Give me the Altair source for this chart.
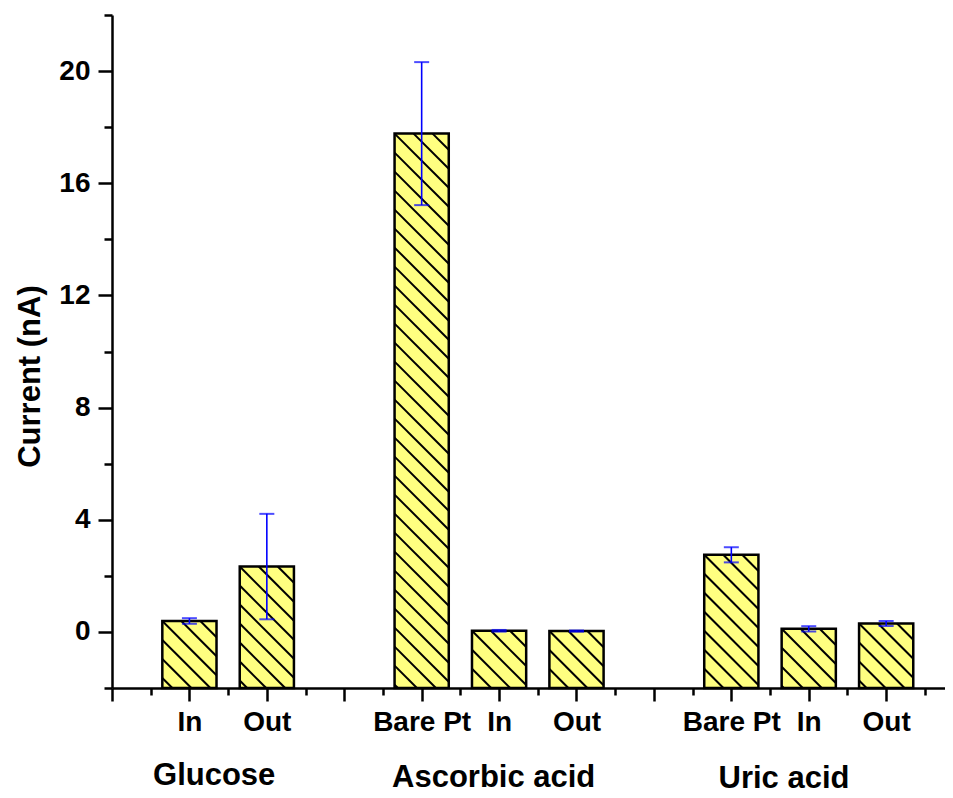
import altair as alt
import pandas as pd
import numpy as np

# ---------------- data ----------------
positions = [1, 2, 4, 5, 6, 8, 9, 10]
tick_labels = ["In", "Out", "Bare Pt", "In", "Out", "Bare Pt", "In", "Out"]
currents = [0.39, 2.33, 17.77, 0.04, 0.03, 2.75, 0.11, 0.30]
errors = [0.10, 1.88, 2.55, 0.03, 0.02, 0.27, 0.095, 0.09]
groups = ["Glucose", "Ascorbic acid", "Uric acid"]
group_centers = [1.32, 4.93, 8.68]

# ---------------- layout / style ----------------
X_MAX = 10.76
Y_MIN, Y_MAX = -2, 22
W, H = 833, 673
BAR_HALF = 0.35
HATCH = 19.0  # px spacing of hatch lines
FONT = "Liberation Sans"
FILL = "#FFFF80"
group_baselines = [770, 772, 773]  # px from top of plot area

px_x = W / X_MAX
px_y = H / (Y_MAX - Y_MIN)

bars = pd.DataFrame({"pos": positions, "val": currents, "err": errors, "label": tick_labels})
bars["x0"] = bars["pos"] - BAR_HALF
bars["x1"] = bars["pos"] + BAR_HALF
bars["base"] = float(Y_MIN)  # bars rise from the bottom of the axis
bars["lo"] = bars["val"] - bars["err"]
bars["hi"] = bars["val"] + bars["err"]

caps = pd.concat([
    bars[["pos", "lo"]].rename(columns={"lo": "y"}),
    bars[["pos", "hi"]].rename(columns={"hi": "y"}),
])

# hatch segments ("\" direction), anchored at each bar's top-left corner
rows = []
for p, v in zip(positions, currents):
    P0, P1 = (p - BAR_HALF) * px_x, (p + BAR_HALF) * px_x
    Q0, Q1 = Y_MIN * px_y, v * px_y
    k0 = P0 + Q1
    n_min = int(np.floor((P0 + Q0 - k0) / HATCH))
    n_max = int(np.ceil((P1 + Q1 - k0) / HATCH))
    for n in range(n_min, n_max + 1):
        k = k0 + n * HATCH
        Pa = max(P0, k - Q1)
        Pb = min(P1, k - Q0)
        if Pb - Pa > 0.5:
            rows.append({"xa": Pa / px_x, "ya": (k - Pa) / px_y,
                         "xb": Pb / px_x, "yb": (k - Pb) / px_y})
hatch = pd.DataFrame(rows)

xs = alt.Scale(domain=[0, X_MAX], nice=False, zero=False)
ys = alt.Scale(domain=[Y_MIN, Y_MAX], nice=False, zero=False)

# x label expression built from the lists
lab_expr = "''"
for p, l in reversed(list(zip(positions, tick_labels))):
    lab_expr = f"datum.value == {p} ? '{l}' : ({lab_expr})"

x_axis = alt.Axis(
    values=[i * 0.5 for i in range(0, 22)],
    labelExpr=lab_expr,
    title=None, grid=False,
    domainColor="black", domainWidth=2.5,
    tickColor="black", tickWidth=2.5,
    tickSize={"condition": {"test": "datum.value % 1 == 0", "value": 13}, "value": 7},
    labelFont=FONT, labelFontSize=28, labelFontWeight="bold", labelColor="black",
    labelPadding=7, labelOverlap=False, labelFlush=False, labelBound=False,
)
y_axis = alt.Axis(
    values=list(range(-2, 23, 2)),
    labelExpr="datum.value % 4 == 0 ? datum.label : ''",
    title="Current (nA)", grid=False,
    domainColor="black", domainWidth=2.5,
    tickColor="black", tickWidth=2.5,
    tickSize={"condition": {"test": "datum.value % 4 == 0", "value": 14}, "value": 8},
    labelFont=FONT, labelFontSize=28, labelFontWeight="bold", labelColor="black",
    labelPadding=8, labelOverlap=False, labelFlush=False, labelBound=False,
    titleFont=FONT, titleFontSize=31, titleFontWeight="bold", titleColor="black",
    titleAngle=270, titleAlign="center", titleBaseline="alphabetic",
    titleX=-73, titleY=361,
)

fill = alt.Chart(bars).mark_bar(color=FILL, stroke=None).encode(
    x=alt.X("x0:Q", scale=xs, axis=x_axis),
    x2="x1:Q",
    y=alt.Y("base:Q", scale=ys, axis=y_axis),
    y2="val:Q",
)
hatch_l = alt.Chart(hatch).mark_rule(color="black", strokeWidth=2).encode(
    x=alt.X("xa:Q", scale=xs, axis=x_axis), x2="xb:Q",
    y=alt.Y("ya:Q", scale=ys, axis=y_axis), y2="yb:Q",
)
outline = alt.Chart(bars).mark_bar(fillOpacity=0, stroke="black", strokeWidth=2.5).encode(
    x=alt.X("x0:Q", scale=xs, axis=x_axis), x2="x1:Q",
    y=alt.Y("base:Q", scale=ys, axis=y_axis), y2="val:Q",
)
stem = alt.Chart(bars).mark_rule(color="#0000FF", strokeWidth=1.6).encode(
    x=alt.X("pos:Q", scale=xs, axis=x_axis),
    y=alt.Y("lo:Q", scale=ys, axis=y_axis), y2="hi:Q",
)
cap = alt.Chart(caps).mark_tick(color="#0000FF", orient="horizontal", size=15, thickness=2).encode(
    x=alt.X("pos:Q", scale=xs, axis=x_axis),
    y=alt.Y("y:Q", scale=ys, axis=y_axis),
)

texts = []
for g, c, b in zip(groups, group_centers, group_baselines):
    df = pd.DataFrame({"x": [c], "t": [g]})
    texts.append(
        alt.Chart(df).mark_text(font=FONT, fontSize=31, fontWeight="bold", color="black",
                                align="center", baseline="alphabetic").encode(
            x=alt.X("x:Q", scale=xs, axis=x_axis),
            y=alt.value(b),
            text="t:N",
        )
    )

chart = alt.layer(fill, hatch_l, outline, stem, cap, *texts).properties(
    width=W, height=H,
    autosize=alt.AutoSizeParams(type="none"),
    padding={"left": 104, "top": 7, "right": 0, "bottom": 108},
).configure(background="white").configure_view(stroke=None)

chart.save("out.html", embed_options={"renderer": "svg", "actions": False})
